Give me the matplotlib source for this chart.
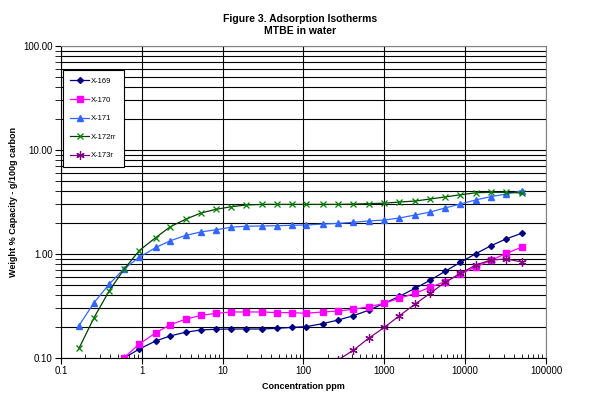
import matplotlib
matplotlib.use('Agg')
import matplotlib.pyplot as plt
from matplotlib.ticker import LogLocator, NullFormatter

plt.rcParams['font.family'] = ['Liberation Sans', 'DejaVu Sans']

# концентрации, ppm (общая сетка точек)
conc = [0.167, 0.256, 0.396, 0.603, 0.93, 1.49, 2.25, 3.49, 5.4, 8.3,
        12.8, 19.6, 30.5, 47.5, 73, 107, 173, 270, 415, 649,
        1000, 1538, 2405, 3690, 5650, 8750, 13550, 20800, 32400, 49800]

x169 = [0.10, 0.122, 0.146, 0.163, 0.177, 0.186, 0.189, 0.19, 0.19, 0.19,
        0.193, 0.197, 0.200, 0.214, 0.232, 0.255, 0.289, 0.336, 0.392, 0.468,
        0.559, 0.682, 0.832, 1.007, 1.20, 1.40, 1.58]
x170 = [0.101, 0.136, 0.175, 0.209, 0.236, 0.257, 0.269, 0.277, 0.277, 0.277,
        0.273, 0.273, 0.269, 0.277, 0.283, 0.294, 0.311, 0.336, 0.375, 0.419,
        0.479, 0.541, 0.642, 0.750, 0.869, 1.016, 1.16]
x171 = [0.205, 0.340, 0.515, 0.722, 0.93, 1.155, 1.34, 1.51, 1.63, 1.71,
        1.81, 1.85, 1.86, 1.87, 1.89, 1.90, 1.94, 1.97, 2.02, 2.08,
        2.12, 2.22, 2.37, 2.53, 2.77, 3.03, 3.31, 3.56, 3.78, 4.03]
x172rr = [0.124, 0.244, 0.444, 0.713, 1.08, 1.44, 1.83, 2.16, 2.48, 2.69,
          2.85, 2.96, 3.0, 3.0, 3.0, 3.0, 3.0, 3.0, 3.02, 3.05,
          3.08, 3.16, 3.23, 3.38, 3.54, 3.71, 3.88, 3.92, 3.92, 3.86]
x173r = [0.096, 0.119, 0.156, 0.197, 0.255, 0.33, 0.419, 0.534, 0.652, 0.784,
         0.875, 0.896, 0.838]

xticks = [0.1, 1, 10, 100, 1000, 10000, 100000]
xtick_labels = ['0.1', '1', '10', '100', '1000', '10000', '100000']
yticks = [0.1, 1, 10, 100]
ytick_labels = ['0.10', '1.00', '10.00', '100.00']

fig = plt.figure(figsize=(5.9, 4.04), dpi=100)
ax = fig.add_axes([0.1034, 0.1139, 0.822, 0.7722])

ax.plot(conc[3:], x169, color='#000080', lw=0.9, marker='D', ms=3,
        mfc='#000080', mec='#000080', label='X-169')
ax.plot(conc[3:], x170, color='#FF00FF', lw=0.9, marker='s', ms=5,
        mfc='#FF00FF', mec='#FF00FF', label='X-170')
ax.plot(conc, x171, color='#3366FF', lw=0.9, marker='^', ms=5,
        mfc='#3366FF', mec='#3366FF', label='X-171')
ax.plot(conc, x172rr, color='#004000', lw=0.9, marker='x', ms=5,
        mec='#008000', mew=0.9, label='X-172rr')
ax.plot(conc[17:], x173r, color='#800080', lw=0.9, marker=(6, 2, 0), ms=6,
        mec='#800080', mew=0.9, label='X-173r')

ax.set_xscale('log')
ax.set_yscale('log')
ax.set_xlim(0.1, 100000)
ax.set_ylim(0.1, 100)

ax.set_xticks(xticks)
ax.set_xticklabels(xtick_labels)
ax.set_yticks(yticks)
ax.set_yticklabels(ytick_labels)
ax.xaxis.set_minor_locator(LogLocator(base=10, subs=range(2, 10), numticks=20))
ax.yaxis.set_minor_locator(LogLocator(base=10, subs=range(2, 10), numticks=20))
ax.xaxis.set_minor_formatter(NullFormatter())
ax.yaxis.set_minor_formatter(NullFormatter())

ax.tick_params(axis='both', which='major', labelsize=7, length=4, width=0.8,
               direction='out', pad=2)
ax.tick_params(axis='x', which='minor', length=3, width=0.6, direction='in')
ax.tick_params(axis='y', which='minor', length=4, width=0.6, direction='out')

ax.grid(True, which='major', axis='both', color='black', lw=0.8)
ax.grid(True, which='minor', axis='y', color='black', lw=0.8)
ax.set_axisbelow(True)

ax.spines['top'].set_color('#808080')
ax.spines['right'].set_color('#808080')

ax.set_xlabel('Concentration ppm', fontsize=6.5, fontweight='bold', labelpad=4)
ax.set_ylabel('Weight % Capacity - g/100g carbon', fontsize=6.5,
              fontweight='bold', labelpad=4)

fig.text(0.508, 0.938, 'Figure 3. Adsorption Isotherms\nMTBE in water',
         ha='center', va='center', fontsize=7.5, fontweight='bold',
         linespacing=1.3)

leg = ax.legend(loc='upper left', bbox_to_anchor=(0.0035, 0.923),
                borderaxespad=0, fontsize=5.5,
                frameon=True, fancybox=False, edgecolor='black',
                framealpha=1, borderpad=1.0, labelspacing=1.47,
                handlelength=2.4, handletextpad=0.3)
leg.get_frame().set_linewidth(0.8)

fig.savefig('out.png', dpi=100)
